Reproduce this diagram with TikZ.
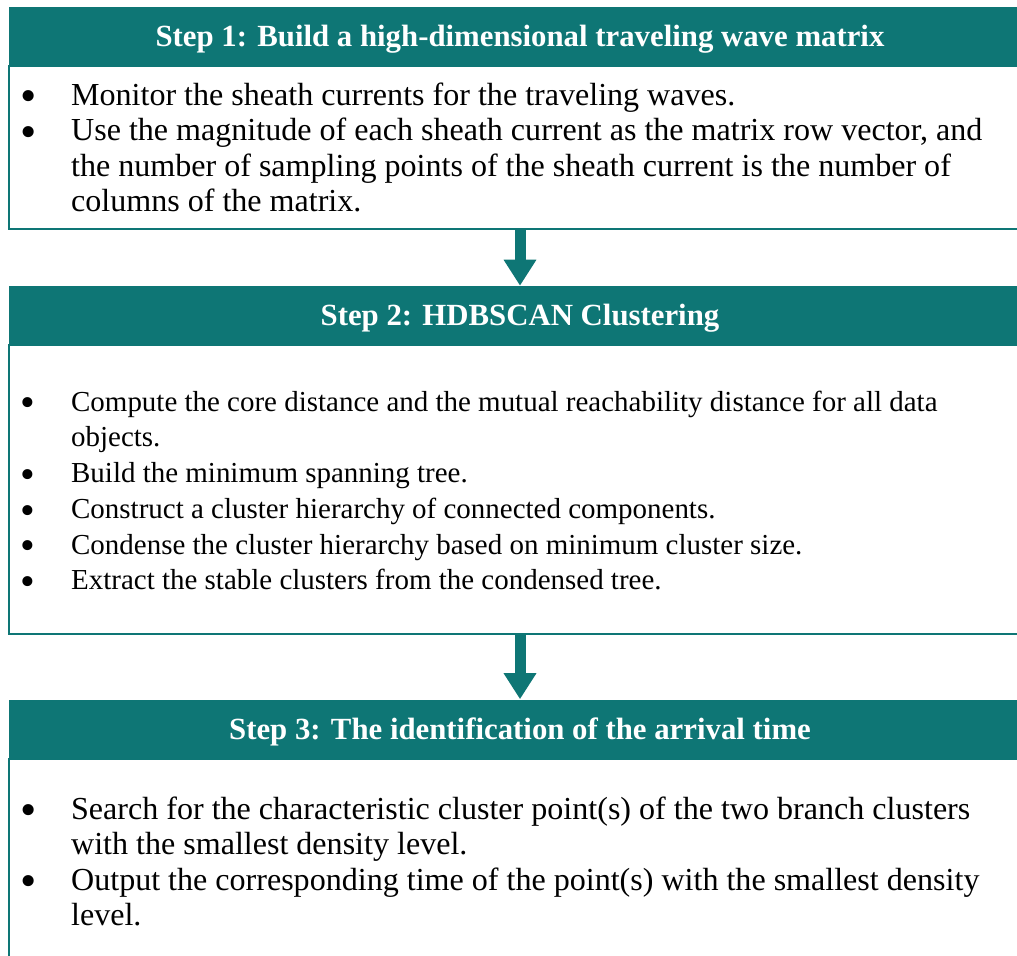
\documentclass[tikz,border=0pt]{standalone}
\usepackage{fontspec}
\setmainfont{Liberation Serif}
\usepackage{xcolor}
\usepackage{tikz}
\usetikzlibrary{arrows.meta, positioning}
\definecolor{stepteal}{RGB}{14, 118, 117}
\newcommand{\stepdot}{\raisebox{-0.2em}{\scalebox{1.45}{\textbullet}}}

\begin{document}
\begin{tikzpicture}[x=0.025cm, y=-0.025cm,
    stephead/.style={fill=stepteal, minimum width=25.55cm, minimum height=1.475cm, inner sep=0pt,
        text height=14.5pt, text depth=0pt, text=white, font=\fontsize{21.9}{24}\selectfont\bfseries},
    stepbody/.style={draw=stepteal, line width=0.05cm, minimum width=25.55cm, inner sep=0pt},
    steptext/.style={anchor=west, inner sep=0pt, yshift=-0.095cm, font=\fontsize{22.8}{25.3}\selectfont},
    steparrow/.style={stepteal, line width=0.275cm, -{Triangle[width=0.775cm, length=0.65cm]}}
]
\useasboundingbox (0,0) rectangle (1017,955);

\node[stepbody, minimum height=4.075cm] (body1) at (520,147.5) {};
\node[stephead] (head1) at (520,36.5) {Step 1: Build a high-dimensional traveling wave matrix};
\node[steptext, right=0.3cm of body1.west] (text1) {%
\begin{tabular}{@{}p{1.275cm}@{}l@{}}
\stepdot & Monitor the sheath currents for the traveling waves.\\
\stepdot & Use the magnitude of each sheath current as the matrix row vector, and\\
 & the number of sampling points of the sheath current is the number of\\
 & columns of the matrix.
\end{tabular}};

\node[stepbody, minimum height=7.225cm] (body2) at (520,489.5) {};
\node[stephead] (head2) at (520,315.5) {Step 2: HDBSCAN Clustering};
\node[steptext, right=0.3cm of body2.west, font=\fontsize{20.6}{25.4}\selectfont] (text2) {%
\begin{tabular}{@{}p{1.275cm}@{}l@{}}
\stepdot & Compute the core distance and the mutual reachability distance for all data\\
 & objects.\\
\stepdot & Build the minimum spanning tree.\\
\stepdot & Construct a cluster hierarchy of connected components.\\
\stepdot & Condense the cluster hierarchy based on minimum cluster size.\\
\stepdot & Extract the stable clusters from the condensed tree.
\end{tabular}};

\node[stepbody, minimum height=5.125cm] (body3) at (520,861.5) {};
\node[stephead] (head3) at (520,729) {Step 3: The identification of the arrival time};
\node[steptext, right=0.3cm of body3.west] (text3) {%
\begin{tabular}{@{}p{1.275cm}@{}l@{}}
\stepdot & Search for the characteristic cluster point(s) of the two branch clusters\\
 & with the smallest density level.\\
\stepdot & Output the corresponding time of the point(s) with the smallest density\\
 & level.
\end{tabular}};

\draw[steparrow] (body1) -- (head2);
\draw[steparrow] (body2) -- (head3);
\end{tikzpicture}
\end{document}
